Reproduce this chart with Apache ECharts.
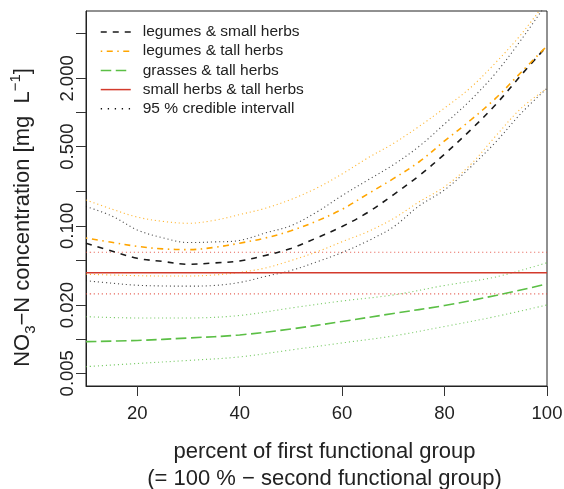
<!DOCTYPE html>
<html>
<head>
<meta charset="utf-8">
<script src="https://cdn.jsdelivr.net/npm/echarts@6/dist/echarts.min.js"></script>
<style>html,body{margin:0;padding:0;background:#fff;}#c{width:564px;height:489px;}</style>
</head>
<body>
<div id="c"></div>
<script>
// x grid (percent of first functional group)
const xs = [10,15,20,25,30,35,40,45,50,55,60,65,70,75,80,85,90,95,100];
// legumes & small herbs
const lsMean  = [0.0702,0.0600,0.0517,0.0485,0.0458,0.0470,0.0490,0.0548,0.0631,0.0781,0.0987,0.1312,0.1879,0.2764,0.4297,0.6955,1.177,2.152,3.864];
const lsUpper = [0.1482,0.1224,0.0921,0.0784,0.0712,0.0721,0.0743,0.0865,0.1003,0.1320,0.1849,0.2533,0.3457,0.5014,0.7922,1.277,2.232,4.41,9.26];
const lsLower = [0.03282,0.03119,0.02989,0.02947,0.02935,0.02977,0.03164,0.03573,0.04036,0.04799,0.05819,0.07351,0.0977,0.1497,0.2077,0.3272,0.5495,0.9903,1.636];
// legumes & tall herbs
const ltMean  = [0.0781,0.0716,0.0659,0.0626,0.0617,0.0645,0.0703,0.0781,0.0904,0.110,0.140,0.191,0.2607,0.366,0.561,0.8506,1.338,2.279,3.864];
const ltUpper = [0.169,0.1408,0.1195,0.1095,0.1054,0.1117,0.1257,0.1429,0.1709,0.215,0.2869,0.397,0.533,0.7527,1.096,1.646,2.763,4.931,9.76];
const ltLower = [0.03737,0.03684,0.03632,0.0361,0.0361,0.03684,0.03878,0.04246,0.04936,0.05879,0.07247,0.08878,0.1157,0.1624,0.2215,0.3443,0.6207,1.096,1.636];
// grasses & tall herbs
const gX     = [10,20,30,40,50,60,70,80,90,100];
const gMean  = [0.00951,0.00974,0.01024,0.01089,0.01230,0.01432,0.01685,0.01982,0.0243,0.0307];
const gUpper = [0.01579,0.01538,0.01538,0.01618,0.01883,0.02173,0.02455,0.02977,0.03537,0.0473];
const gLower = [0.00572,0.0061,0.00649,0.00697,0.00803,0.00926,0.01067,0.01294,0.01585,0.02003];
// small herbs & tall herbs
const rX     = [10,100];
const rMean  = [0.0386,0.0386];
const rUpper = [0.0584,0.0584];
const rLower = [0.0251,0.0251];
// axes
const yTicks  = [0.005,0.01,0.02,0.05,0.1,0.2,0.5,1,2,5];
const yLabels = [0.005,0.02,0.1,0.5,2];
const xTicks  = [20,40,60,80,100];
const yMinVal = 0.00386, yMaxVal = 7.87;

const FONT = '"Liberation Sans", Arial, Helvetica, sans-serif';
const L10 = v => Math.log10(v);
const pts = (x, arr) => x.map((xv, i) => [xv, L10(arr[i])]);

function line(name, x, arr, color, width, type, z) {
  return {
    type: 'line', name: name, data: pts(x, arr), showSymbol: false, symbol: 'none',
    smooth: 0.35, z: z || 2, silent: true,
    lineStyle: { color: color, width: width, type: type },
    itemStyle: { color: color }
  };
}

const cBlack = '#1a1a1a', cOrange = '#ffa500', cGreen = '#5bbf45', cRed = '#d33a2c';
const ciBlack = 'rgba(20,20,20,0.75)', ciOrange = 'rgba(255,165,0,0.8)', ciGreen = 'rgba(91,191,69,0.8)', ciRed = 'rgba(225,60,45,0.8)';
const dot = [1.1, 2.9];

const series = [
  line('ci-ls-u', xs, lsUpper, ciBlack, 1.1, dot),
  line('ci-ls-l', xs, lsLower, ciBlack, 1.1, dot),
  line('ci-lt-u', xs, ltUpper, ciOrange, 1.1, dot),
  line('ci-lt-l', xs, ltLower, ciOrange, 1.1, dot),
  line('ci-g-u', gX, gUpper, ciGreen, 1.1, dot),
  line('ci-g-l', gX, gLower, ciGreen, 1.1, dot),
  line('ci-r-u', rX, rUpper, ciRed, 1.1, dot),
  line('ci-r-l', rX, rLower, ciRed, 1.1, dot),
  line('legumes & small herbs', xs, lsMean, cBlack, 1.6, [6, 6], 3),
  line('legumes & tall herbs', xs, ltMean, cOrange, 1.6, [1.5, 4.5, 6, 4.5], 3),
  line('grasses & tall herbs', gX, gMean, cGreen, 1.6, [10.5, 4.5], 3),
  line('small herbs & tall herbs', rX, rMean, cRed, 1.6, 'solid', 3),
  { type: 'line', name: '95 % credible intervall', data: [], symbol: 'none',
    lineStyle: { color: '#111', width: 1.3, type: [1.3, 5.7] }, itemStyle: { color: '#111' } }
];

const axisLineStyle = { show: true, onZero: false, lineStyle: { color: '#222', width: 1 } };

const chart = echarts.init(document.getElementById('c'), null, { renderer: 'canvas' });
chart.setOption({
  animation: false,
  backgroundColor: '#fff',
  textStyle: { fontFamily: FONT },
  grid: { left: 86, top: 11, width: 461, height: 375, show: true, borderColor: '#222', borderWidth: 1,
    backgroundColor: 'transparent', containLabel: false, outerBoundsMode: 'none' },
  legend: {
    data: ['legumes & small herbs','legumes & tall herbs','grasses & tall herbs','small herbs & tall herbs','95 % credible intervall'],
    orient: 'vertical', left: 100, top: 24, padding: 0, itemWidth: 30, itemHeight: 14, itemGap: 3.2,
    selectedMode: false,
    lineStyle: { width: 1.5 },
    itemStyle: { opacity: 0 },
    textStyle: { fontSize: 15.5, color: '#222', fontFamily: FONT, padding: [0, 0, 0, 7] }
  },
  xAxis: {
    type: 'value', min: 10, max: 100,
    axisLine: axisLineStyle, splitLine: { show: false },
    axisTick: { show: true, customValues: xTicks, length: 10, lineStyle: { color: '#333' } },
    axisLabel: { customValues: xTicks, fontSize: 18.5, margin: 18, color: '#222', fontFamily: FONT },
    name: 'percent of first functional group\n(= 100 % \u2212 second functional group)',
    nameLocation: 'middle', nameGap: 52,
    nameTextStyle: { fontSize: 22, lineHeight: 27, color: '#222', fontFamily: FONT, padding: [0, 0, 0, 16] }
  },
  yAxis: {
    type: 'value', min: L10(yMinVal), max: L10(yMaxVal),
    axisLine: axisLineStyle, splitLine: { show: false },
    axisTick: { show: true, customValues: yTicks.map(L10), length: 10, lineStyle: { color: '#333' } },
    axisLabel: { customValues: yLabels.map(L10), rotate: 90, fontSize: 18.5, margin: 9, color: '#222', fontFamily: FONT,
      formatter: v => Math.pow(10, v).toFixed(3) },
    name: '{n|NO}{sub|3}{n|\u2212N concentration [mg  L}{sup|\u22121}{n|]}',
    nameLocation: 'middle', nameRotate: 90, nameGap: 48,
    nameTextStyle: {
      color: '#222', fontFamily: FONT, padding: [0, 38, 0, 0],
      rich: {
        n: { fontSize: 22, lineHeight: 30, color: '#222', fontFamily: FONT, verticalAlign: 'middle' },
        sub: { fontSize: 15, lineHeight: 15, color: '#222', fontFamily: FONT, verticalAlign: 'bottom' },
        sup: { fontSize: 15, lineHeight: 15, color: '#222', fontFamily: FONT, verticalAlign: 'top' }
      }
    }
  },
  series: series
});
</script>
</body>
</html>
